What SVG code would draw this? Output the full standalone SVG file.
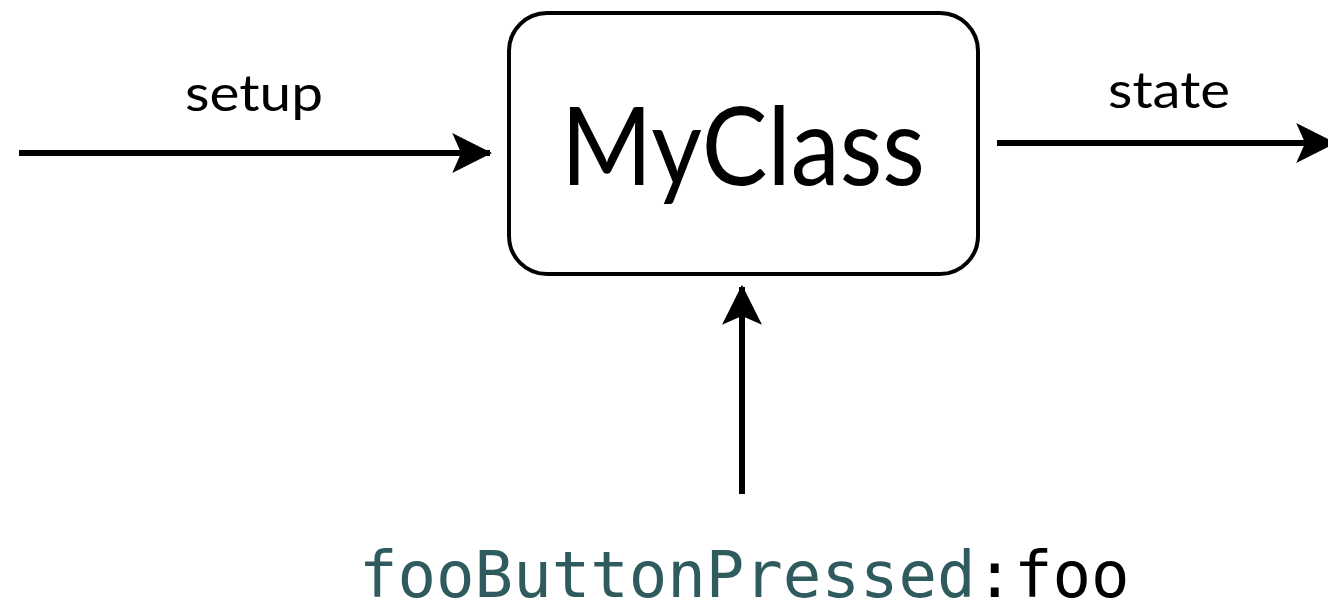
<svg xmlns="http://www.w3.org/2000/svg" width="1328" height="607" viewBox="0 0 1328 607">
<style>
.lbl{font-family:"Lato","Open Sans","Liberation Sans",sans-serif;fill:#000}
.mono{font-family:"DejaVu Sans Mono","Liberation Mono",monospace;font-size:64px}
.conn{stroke:#000;stroke-width:6;fill:none}
</style>
<defs>
<marker id="ah" markerUnits="userSpaceOnUse" markerWidth="40" markerHeight="40" viewBox="0 0 36 36" refX="34" refY="18" orient="auto">
<path d="M0,0 L36,18 L0,36 L8,18 Z" fill="#000"/>
</marker>
</defs>
<rect width="1328" height="607" fill="#fff"/>
<g id="myclass">
<rect x="509" y="13" width="469" height="261" rx="38" ry="38" fill="#fff" stroke="#000" stroke-width="4"/>
<text class="lbl" x="561" y="185" font-size="108" textLength="364" lengthAdjust="spacingAndGlyphs">MyClass</text>
</g>
<g id="connectors">
<line class="conn" x1="19" y1="153" x2="490" y2="153" marker-end="url(#ah)"/>
<line class="conn" x1="997" y1="143" x2="1334" y2="143" marker-end="url(#ah)"/>
<line class="conn" x1="742" y1="494" x2="742" y2="287" marker-end="url(#ah)"/>
</g>
<g id="labels">
<text class="lbl" x="185" y="111" font-size="50" textLength="138" lengthAdjust="spacingAndGlyphs">setup</text>
<text class="lbl" x="1108" y="108" font-size="50" textLength="122" lengthAdjust="spacingAndGlyphs">state</text>
<text class="mono" x="359" y="597"><tspan fill="#2f5b5e">fooButtonPressed</tspan><tspan fill="#000">:foo</tspan></text>
</g>
</svg>
